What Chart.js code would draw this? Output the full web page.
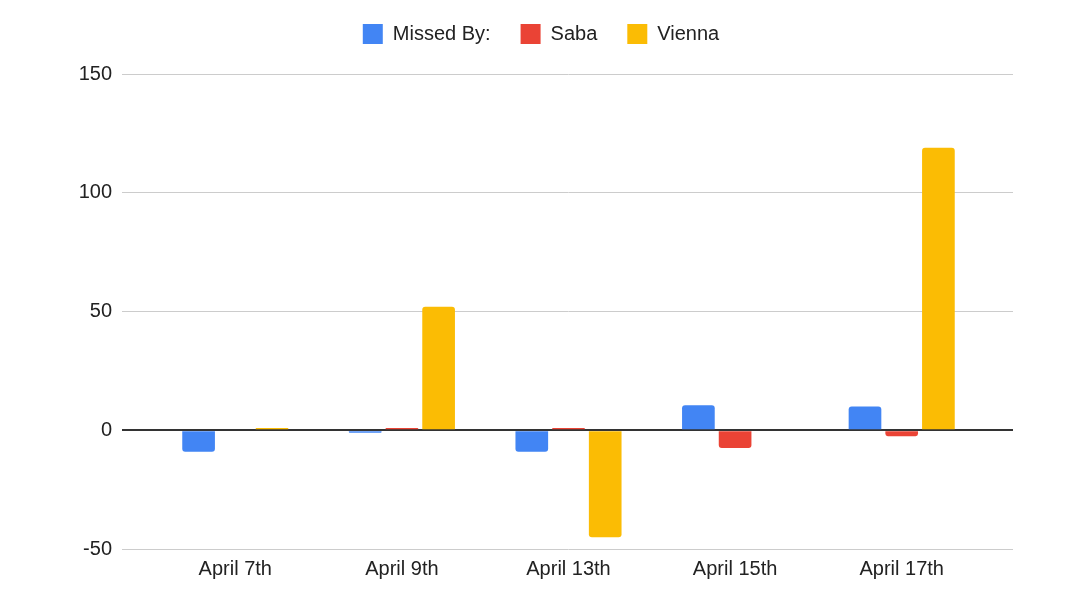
<!DOCTYPE html>
<html>
<head>
<meta charset="utf-8">
<script src="https://cdn.jsdelivr.net/npm/chart.js@4"></script>
<style>
  html, body { margin: 0; padding: 0; background: #fff; }
  #wrap { width: 1082px; height: 606px; }
</style>
</head>
<body>
<div id="wrap"><canvas id="chart"></canvas></div>
<script>
// Datos
const categorias = ['April 7th', 'April 9th', 'April 13th', 'April 15th', 'April 17th'];
const missedBy = [-9, -1, -9, 10.5, 10];
const saba = [0, 1, 1, -7.5, -2.5];
const vienna = [1, 52, -45, 0, 119];
const yMin = -50;
const yMax = 150;
const yPaso = 50;

const AZUL = '#4285F4';
const ROJO = '#EA4335';
const AMARILLO = '#FBBC04';
const TEXTO = '#222222';

Chart.defaults.font.family = '"Liberation Sans", Arial, sans-serif';
Chart.defaults.font.size = 20;
Chart.defaults.color = TEXTO;

// Color de rejilla: la línea del cero más oscura
const colorRejilla = ctx => (ctx.tick && ctx.tick.value === 0) ? '#333333' : '#cccccc';
const anchoRejilla = ctx => (ctx.tick && ctx.tick.value === 0) ? 2 : 1;

// Espacio extra bajo la leyenda
const espacioLeyenda = {
  id: 'espacioLeyenda',
  beforeLayout(chart) {
    const leyenda = chart.legend;
    if (!leyenda || leyenda._parcheado) return;
    const fitOriginal = leyenda.fit;
    leyenda.fit = function () {
      fitOriginal.call(this);
      this.height += 20;
    };
    leyenda._parcheado = true;
  }
};

function serie(label, data, color) {
  return {
    label,
    data,
    backgroundColor: color,
    borderColor: color,
    borderWidth: 0,
    borderRadius: 3,
    categoryPercentage: 0.661,
    barPercentage: 0.89
  };
}

new Chart(document.getElementById('chart').getContext('2d'), {
  type: 'bar',
  data: {
    labels: categorias,
    datasets: [
      serie('Missed By:', missedBy, AZUL),
      serie('Saba', saba, ROJO),
      serie('Vienna', vienna, AMARILLO)
    ]
  },
  options: {
    responsive: true,
    maintainAspectRatio: false,
    animation: false,
    layout: { padding: { top: -6, left: 0, right: 0, bottom: 0 } },
    plugins: {
      legend: {
        position: 'top',
        labels: {
          boxWidth: 20,
          boxHeight: 20,
          padding: 30,
          color: TEXTO,
          font: { size: 20 }
        }
      },
      tooltip: { enabled: false }
    },
    scales: {
      x: {
        grid: { display: false, drawTicks: false },
        border: { display: false },
        ticks: { padding: 8, font: { size: 20 }, color: TEXTO },
        afterFit: s => { s.height = 57; }
      },
      y: {
        min: yMin,
        max: yMax,
        border: { display: false },
        grid: {
          color: colorRejilla,
          lineWidth: anchoRejilla,
          drawTicks: true,
          tickLength: 30
        },
        ticks: { stepSize: yPaso, padding: 10, font: { size: 20 }, color: TEXTO },
        afterFit: s => { s.width = 152; }
      },
      y2: {
        position: 'right',
        min: yMin,
        max: yMax,
        border: { display: false },
        grid: {
          color: colorRejilla,
          lineWidth: anchoRejilla,
          drawOnChartArea: false,
          drawTicks: true,
          tickLength: 28
        },
        ticks: { stepSize: yPaso, display: false },
        afterFit: s => { s.width = 97; }
      }
    }
  },
  plugins: [espacioLeyenda]
});
</script>
</body>
</html>
